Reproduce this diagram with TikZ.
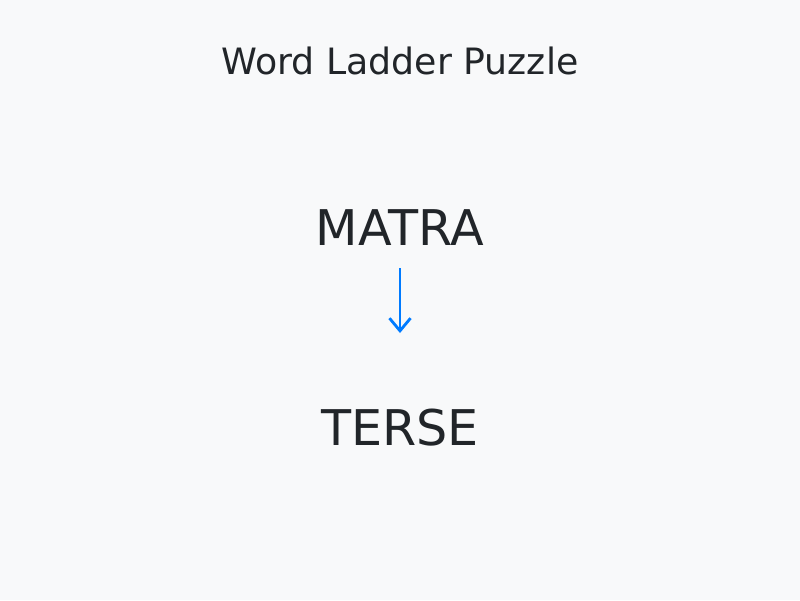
\documentclass[tikz,border=0pt]{standalone}
\usepackage{fontspec}
\setmainfont{DejaVu Sans}
\usetikzlibrary{arrows.meta}
\definecolor{bgcol}{HTML}{F8F9FA}
\definecolor{inkcol}{HTML}{212529}
\definecolor{arrowcol}{HTML}{007BFF}

\begin{document}
\begin{tikzpicture}[x=0.025cm, y=-0.025cm, every node/.style={text=inkcol}]
      \fill[bgcol] (0,0) rectangle (800,600);
      \useasboundingbox (0,0) rectangle (800,600);
      \node[font=\fontsize{25.8}{30}\selectfont] (title) at (400,61) {Word Ladder Puzzle};
      \node[font=\fontsize{35}{40}\selectfont] (matra) at (400,228) {MATRA};
      \node[font=\fontsize{35}{40}\selectfont] (terse) at (400,428) {TERSE};
      \coordinate (from) at (400,268); \coordinate (to) at (400,333);
      \draw[arrowcol, line width=2pt, -{Straight Barb[length=9pt, width=15pt]}] (from) -- (to);
    \end{tikzpicture}
\end{document}
